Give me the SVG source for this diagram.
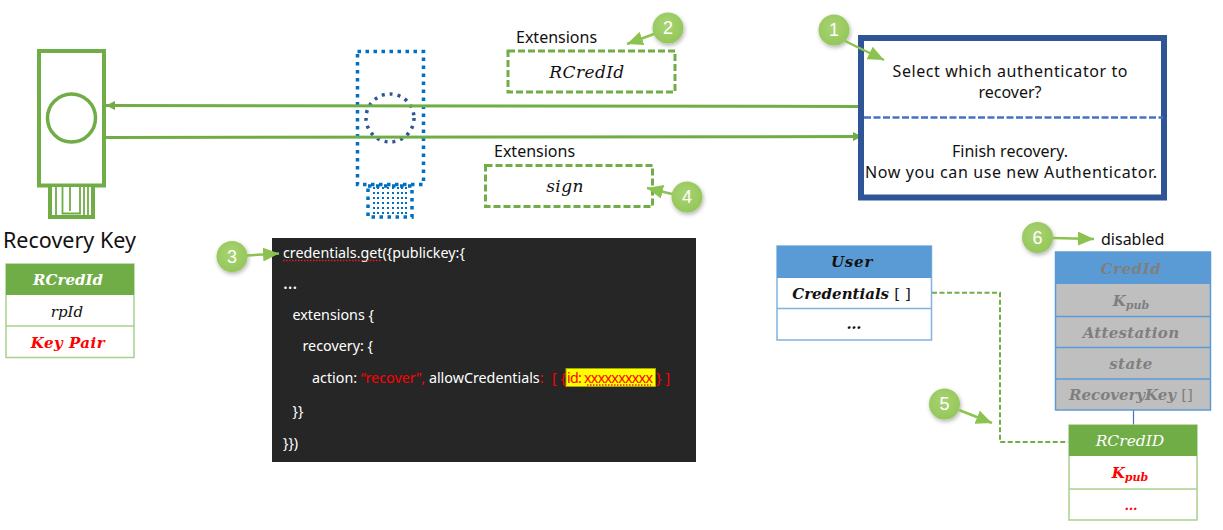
<svg xmlns="http://www.w3.org/2000/svg" width="1223" height="530" viewBox="0 0 1223 530">
<style>
.sans{font-family:"Noto Sans","Open Sans","Liberation Sans",sans-serif}
.math{font-family:"DejaVu Serif","Liberation Serif",serif;font-style:italic;text-anchor:middle}
.b{font-weight:bold}
.up{font-style:normal;font-weight:normal}
.lbl{font-size:16px;fill:#111;text-anchor:middle}
.ext{font-family:"Noto Sans","Liberation Sans",sans-serif;font-size:16px;fill:#111}
.code{font-family:"Noto Sans","Open Sans","Liberation Sans",sans-serif;font-size:14.300px;fill:#fff}
.red{fill:#ff0000}
.badge{fill:url(#bg);filter:url(#sh)}
.num{font-family:"Liberation Sans",sans-serif;font-size:18px;fill:#fff;text-anchor:middle}
.pt{stroke:#8cc350;stroke-width:2.5;fill:none;marker-end:url(#ga)}
.wire{stroke:#70ad47;stroke-width:3;fill:none}
.dash{stroke:#70ad47;stroke-width:3;stroke-dasharray:7 3;fill:#fff}
.squig{stroke:#e02020;stroke-width:1.300;stroke-dasharray:1.500 1.500;fill:none}
</style>
<defs>
<radialGradient id="bg" cx="45%" cy="40%" r="65%"><stop offset="0" stop-color="#a9d372"/><stop offset="1" stop-color="#92c658"/></radialGradient>
<filter id="sh" x="-30%" y="-30%" width="170%" height="170%"><feDropShadow dx="1" dy="2" stdDeviation="2" flood-color="#000" flood-opacity=".3"/></filter>
<marker id="ga" markerUnits="userSpaceOnUse" markerWidth="18" markerHeight="14" refX="16" refY="7" orient="auto"><path d="M0 0L16 7L0 14Z" fill="#8cc350"/></marker>
<marker id="wa" markerUnits="userSpaceOnUse" markerWidth="10" markerHeight="10" refX="9" refY="4.500" orient="auto"><path d="M0 0L9 4.500L0 9Z" fill="#70ad47"/></marker>
</defs>
<rect width="1223" height="530" fill="#fff"/>

<g id="recovery-key">
<rect x="39" y="51" width="65" height="134.500" fill="#fff" stroke="#70ad47" stroke-width="4"/>
<circle cx="71.500" cy="118" r="24" fill="#fff" stroke="#70ad47" stroke-width="3.500"/>
<path d="M50 187V217H93V187" fill="#fff" stroke="#70ad47" stroke-width="4"/>
<path d="M56 187V216M62.500 187V213.500H80V187M70 187V211M84 187V216M88 187V216" fill="none" stroke="#70ad47" stroke-width="1.800"/>
<text x="3" y="248" class="sans" font-size="21.500" fill="#111">Recovery Key</text>
</g>

<g id="dotted-device" fill="none">
<rect x="357.500" y="51.500" width="66" height="133" stroke="#0070c0" stroke-width="3.500" stroke-dasharray="3.500 4.500"/>
<circle cx="390" cy="118" r="24" stroke="#2f5597" stroke-width="3.500" stroke-dasharray="3 5"/>
<rect x="368" y="186" width="44" height="31" stroke="#0070c0" stroke-width="3.500" stroke-dasharray="3.500 4.500"/>
<path d="M374 187V217M378 187V217M383 187V217M388 187V217M393 187V217M398 187V217M402 187V217M406 187V217" stroke="#0070c0" stroke-width="2" stroke-dasharray="2 3"/>
</g>

<g id="connectors">
<path d="M862 106.500L106 105.500" class="wire" marker-end="url(#wa)"/>
<path d="M106 137.500L862 136.500" class="wire" marker-end="url(#wa)"/>
<path d="M932 292.700H1000V442H1068" fill="none" stroke="#70ad47" stroke-width="2" stroke-dasharray="5 2.500"/>
<path d="M1133.500 410V425" fill="none" stroke="#4472c4" stroke-width="1.200"/>
</g>

<g id="ext-rcredid">
<text x="516" y="43" class="ext">Extensions</text>
<rect x="508" y="51" width="167" height="41" class="dash"/>
<text x="587" y="78" class="math" font-size="17" letter-spacing="0.400" fill="#111">RCredId</text>
</g>
<g id="ext-sign">
<text x="494" y="157" class="ext">Extensions</text>
<rect x="485.500" y="165.500" width="167" height="41" class="dash"/>
<text x="565" y="192" class="math" font-size="17" letter-spacing="0.400" fill="#111">sign</text>
</g>

<g id="prompt">
<rect x="861" y="38" width="303" height="159.500" fill="#fff" stroke="#2f5597" stroke-width="6"/>
<path d="M864 117.500H1163" stroke="#4472c4" stroke-width="2.500" stroke-dasharray="7 2.500"/>
<text x="1010" y="77" class="sans lbl" textLength="235" lengthAdjust="spacing">Select which authenticator to</text>
<text x="1010" y="98" class="sans lbl">recover?</text>
<text x="1010" y="157" class="sans lbl">Finish recovery.</text>
<text x="1011" y="178" class="sans lbl" textLength="292" lengthAdjust="spacing">Now you can use new Authenticator.</text>
</g>

<g id="table-key">
<rect x="6" y="264" width="128" height="93.500" fill="#fff" stroke="#a9d18e" stroke-width="1.500"/>
<rect x="6" y="264" width="128" height="31" fill="#70ad47"/>
<path d="M6 326H134" stroke="#a9d18e" stroke-width="1.500"/>
<text x="68" y="285" class="math b" font-size="15" fill="#fff">RCredId</text>
<text x="67" y="317" class="math" font-size="15" fill="#111">rpId</text>
<text x="68" y="348" class="math b" font-size="15" letter-spacing="0.500" fill="#ff0000">Key Pair</text>
</g>

<g id="code">
<rect x="272" y="238" width="424" height="224" fill="#262626"/>
<rect x="566" y="368.500" width="89.500" height="18" fill="#ffff00" stroke="#a5a500" stroke-width="1"/>
<text x="283" y="258" class="code">credentials.get({publickey:{</text>
<text x="283" y="289" class="code" style="font-size:18px">…</text>
<text x="292.500" y="320" class="code">extensions {</text>
<text x="302.500" y="351" class="code">recovery: {</text>
<text x="312" y="383" class="code">action: <tspan class="red">“recover”,</tspan> allowCredentials<tspan class="red">:</tspan></text>
<text x="552" y="383" class="code red">[ {</text>
<text x="567" y="383" class="code red" textLength="86" lengthAdjust="spacing">id: xxxxxxxxxx</text>
<text x="656" y="383" class="code red">} ]</text>
<text x="292.500" y="416" class="code">}}</text>
<text x="283" y="448" class="code">}})</text>
<path d="M283 260.500H382" class="squig"/>
<path d="M587 385H651" class="squig"/>
</g>

<g id="table-user">
<rect x="777" y="246" width="154.500" height="94" fill="#fff" stroke="#7fb2e0" stroke-width="1.500"/>
<rect x="777" y="246" width="154.500" height="32" fill="#5b9bd5"/>
<path d="M777 308.500H931.500" stroke="#7fb2e0" stroke-width="1.500"/>
<text x="852" y="267" class="math b" font-size="15" letter-spacing="0.800" fill="#111">User</text>
<text x="851.500" y="299" class="math b" font-size="15" fill="#111">Credentials <tspan class="up">[ ]</tspan></text>
<text x="854" y="329" class="math b" font-size="15" fill="#111">…</text>
</g>

<g id="table-cred">
<rect x="1055.500" y="252" width="155" height="158" fill="#bfbfbf" stroke="#5b9bd5" stroke-width="1.500"/>
<rect x="1055.500" y="252" width="155" height="32" fill="#5b9bd5"/>
<path d="M1055.500 316.500H1210.500M1055.500 347.500H1210.500M1055.500 379H1210.500" stroke="#5b9bd5" stroke-width="1.500"/>
<text x="1131" y="274" class="math b" font-size="15" letter-spacing="0.500" fill="#7f7f7f">CredId</text>
<text x="1131" y="306" class="math b" font-size="15" fill="#7f7f7f">K<tspan font-size="11" dy="3">pub</tspan></text>
<text x="1131" y="338" class="math b" font-size="15" letter-spacing="0.300" fill="#7f7f7f">Attestation</text>
<text x="1131" y="369" class="math b" font-size="15" letter-spacing="0.400" fill="#7f7f7f">state</text>
<text x="1131" y="400" class="math b" font-size="15" fill="#7f7f7f">RecoveryKey <tspan class="up">[]</tspan></text>
</g>
<text x="1101" y="245" font-family="'Noto Sans','Liberation Sans',sans-serif" font-size="16" fill="#111" id="disabled-label">disabled</text>

<g id="table-rcred">
<rect x="1069" y="425" width="128" height="95" fill="#fff" stroke="#a9d18e" stroke-width="1.500"/>
<rect x="1069" y="425" width="128" height="31" fill="#70ad47"/>
<path d="M1069 489H1197" stroke="#a9d18e" stroke-width="1.500"/>
<text x="1130" y="446" class="math" font-size="15.500" fill="#fff">RCredID</text>
<text x="1130" y="478" class="math b" font-size="15" fill="#ff0000">K<tspan font-size="11" dy="3">pub</tspan></text>
<text x="1131" y="510" class="math b" font-size="13" fill="#ff0000">…</text>
</g>

<g id="badge-1"><circle cx="834" cy="30" r="15.500" class="badge"/><path d="M845 41L884 60" class="pt"/><text x="834" y="36" class="num">1</text></g>
<g id="badge-2"><circle cx="668" cy="28" r="15.500" class="badge"/><path d="M654 34L627 44" class="pt"/><text x="668" y="34" class="num">2</text></g>
<g id="badge-3"><circle cx="232" cy="256.500" r="15.500" class="badge"/><path d="M247 255.500L279 253.500" class="pt"/><text x="232" y="262.500" class="num">3</text></g>
<g id="badge-4"><circle cx="687" cy="197" r="15.500" class="badge"/><path d="M672 194L647 188" class="pt"/><text x="687" y="203" class="num">4</text></g>
<g id="badge-5"><circle cx="944.500" cy="404" r="15.500" class="badge"/><path d="M959 410L992 423" class="pt"/><text x="944.500" y="410" class="num">5</text></g>
<g id="badge-6"><circle cx="1037.500" cy="237.500" r="15.500" class="badge"/><path d="M1053 238L1094 239" class="pt"/><text x="1037.500" y="243.500" class="num">6</text></g>
</svg>
